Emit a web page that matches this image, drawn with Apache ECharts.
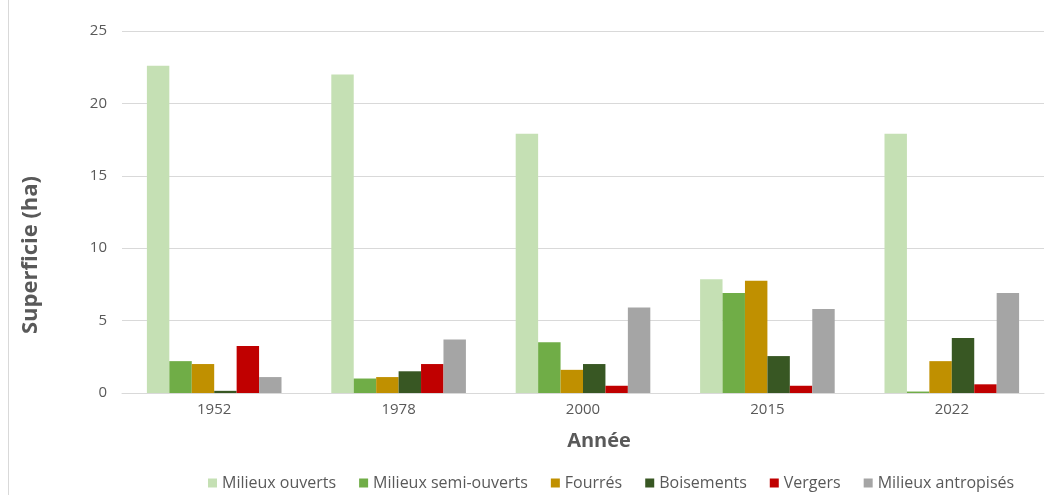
<!DOCTYPE html>
<html>
<head>
<meta charset="utf-8">
<script src="https://cdn.jsdelivr.net/npm/echarts@6/dist/echarts.min.js"></script>
<style>
  html, body { margin: 0; padding: 0; background: #fff; }
  #chart { width: 1053px; height: 495px; }
</style>
</head>
<body>
<div id="chart"></div>
<script>
// Surface par type de milieu et par année (ha)
const years = ['1952', '1978', '2000', '2015', '2022'];
const yTicks = [0, 5, 10, 15, 20, 25];

const milieuxOuverts     = [22.6, 22.0, 17.9, 7.85, 17.9];
const milieuxSemiOuverts = [2.2, 1.0, 3.5, 6.9, 0.1];
const fourres            = [2.0, 1.1, 1.6, 7.75, 2.2];
const boisements         = [0.15, 1.5, 2.0, 2.55, 3.8];
const vergers            = [3.25, 2.0, 0.5, 0.5, 0.6];
const milieuxAntropises  = [1.1, 3.7, 5.9, 5.8, 6.9];

const seriesDefs = [
  { name: 'Milieux ouverts', data: milieuxOuverts, color: '#c5e0b4' },
  { name: 'Milieux semi-ouverts', data: milieuxSemiOuverts, color: '#70ad47' },
  { name: 'Fourrés', data: fourres, color: '#c09000' },
  { name: 'Boisements', data: boisements, color: '#385723' },
  { name: 'Vergers', data: vergers, color: '#c00000' },
  { name: 'Milieux antropisés', data: milieuxAntropises, color: '#a5a5a5' }
];

const textColor = '#595959';
const font = 'Open Sans, Noto Sans, sans-serif';

const chart = echarts.init(document.getElementById('chart'), null, { renderer: 'canvas' });
chart.setOption({
  animation: false,
  backgroundColor: '#fff',
  textStyle: { fontFamily: font },
  grid: { left: 122, right: 9, top: 31, bottom: 102, containLabel: false },
  legend: {
    left: 203,
    top: 470,
    itemWidth: 9,
    itemHeight: 9,
    itemGap: 23,
    icon: 'rect',
    textStyle: { color: textColor, fontSize: 16, fontFamily: font },
    data: seriesDefs.map(s => s.name)
  },
  xAxis: {
    type: 'category',
    data: years,
    name: 'Année',
    nameLocation: 'middle',
    nameGap: 38,
    nameTextStyle: {
      color: textColor, fontSize: 20, fontWeight: 'bold', fontFamily: font,
      padding: [0, 0, 0, 32]
    },
    axisTick: { show: false },
    axisLine: { lineStyle: { color: '#d9d9d9', width: 1 } },
    axisLabel: { color: textColor, fontSize: 15, margin: 9, fontFamily: font }
  },
  yAxis: {
    type: 'value',
    min: yTicks[0],
    max: yTicks[yTicks.length - 1],
    interval: 5,
    name: 'Superficie (ha)',
    nameLocation: 'middle',
    nameGap: 80,
    nameTextStyle: {
      color: textColor, fontSize: 22, fontWeight: 'bold', fontFamily: font,
      padding: [0, 86, 0, 0]
    },
    axisLine: { show: false },
    axisTick: { show: false },
    splitLine: { lineStyle: { color: '#d9d9d9', width: 1 } },
    axisLabel: { color: textColor, fontSize: 15, margin: 15, fontFamily: font }
  },
  graphic: [
    {
      type: 'line',
      shape: { x1: 8.5, y1: 0, x2: 8.5, y2: 495 },
      style: { stroke: '#d9d9d9', lineWidth: 1 },
      silent: true
    }
  ],
  series: seriesDefs.map(s => ({
    name: s.name,
    type: 'bar',
    data: s.data,
    barGap: '0%',
    barCategoryGap: '27%',
    itemStyle: { color: s.color },
    emphasis: { disabled: true }
  }))
});
</script>
</body>
</html>
